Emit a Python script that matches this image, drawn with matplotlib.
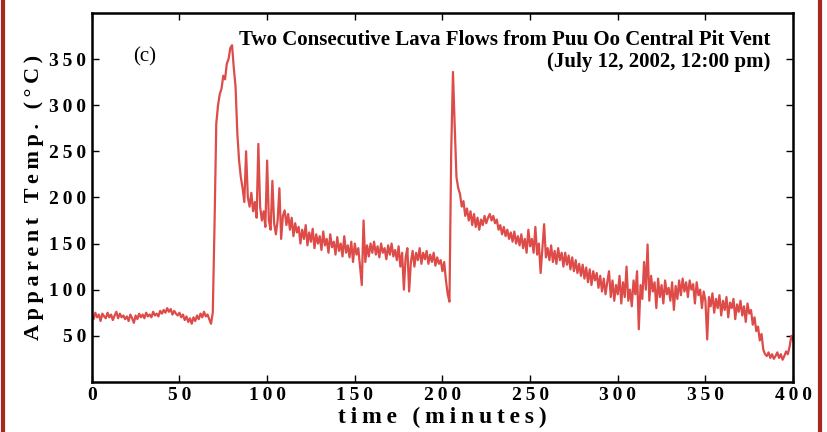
import numpy as np
import matplotlib.pyplot as plt
from matplotlib.lines import Line2D

# temperatura aparente, una muestra por minuto (0..400)
temp = [
    72, 68, 75, 70, 73, 66, 74, 71, 69, 75,
    70, 73, 67, 72, 76, 69, 74, 70, 72, 68,
    71, 66, 73, 69, 64, 72, 68, 74, 70, 73,
    69, 75, 71, 73, 70, 76, 72, 74, 71, 77,
    74, 78, 75, 80, 76, 79, 73, 77, 74, 72,
    75, 70, 73, 67, 71, 65, 69, 63, 70, 66,
    72, 68, 74, 70, 76, 71, 73, 68, 63, 75,
    170, 280, 300, 312, 318, 332, 328, 345, 350, 362,
    365, 340, 320, 270, 240, 222, 210, 195, 250, 200,
    190, 205, 185, 195, 178, 258, 190, 175, 185, 168,
    240, 175, 165, 218, 172, 160, 175, 210, 155, 180,
    186, 170, 182, 165, 178, 158, 172, 162, 168, 150,
    165, 155, 170, 148, 162, 152, 166, 145, 160, 150,
    158, 143, 163, 148, 155, 140, 160, 146, 152, 138,
    157, 142, 150, 136, 158, 140, 148, 135, 152, 130,
    150, 138, 145, 125, 105, 175, 130, 148, 136, 150,
    140, 152, 138, 147, 135, 150, 140, 145, 133, 148,
    138, 150, 136, 143, 132, 147, 125, 140, 100, 135,
    145, 98, 130, 142, 125, 140, 132, 145, 128, 140,
    133, 142, 128, 138, 130, 140, 126, 135, 128, 132,
    120, 130, 110, 95, 87, 250, 336, 277, 222, 210,
    204, 190, 196, 180, 188, 175, 185, 170, 182, 168,
    178, 165, 176, 170, 180, 172, 178, 182, 175, 180,
    172, 176, 165, 170, 160, 168, 158, 165, 155, 162,
    152, 163, 150, 158, 148, 160, 145, 155, 140, 165,
    147, 155, 140, 168, 138, 150, 118, 145, 171, 135,
    145, 132, 148, 130, 142, 128, 145, 132, 140, 125,
    140, 127, 137, 122, 135, 120, 132, 118, 128, 115,
    127, 112, 124, 108, 122, 105, 120, 110, 118, 102,
    115, 98, 112, 95, 108, 120, 92, 110, 88, 105,
    95, 115, 85, 108, 92, 125, 88, 100, 82, 110,
    95, 120, 57, 105, 90, 130, 100, 149, 88, 115,
    98, 108, 80, 112, 92, 105, 85, 110, 95, 102,
    88, 108, 78, 104, 90, 110, 94, 112, 98, 108,
    92, 110, 100, 106, 85, 108, 94, 100, 80, 98,
    88, 46, 92, 82, 96, 75, 90, 80, 94, 72,
    88, 78, 92, 70, 86, 80, 90, 68, 84, 76,
    88, 72, 82, 65, 85, 74, 78, 62, 70, 55,
    60, 45, 52, 35, 30, 28, 32, 26, 30, 25,
    28, 32, 26, 30, 24, 28, 33, 30, 38, 50,
    45,
]
tiempo = np.arange(len(temp))

xticks = [0, 50, 100, 150, 200, 250, 300, 350, 400]
yticks = [50, 100, 150, 200, 250, 300, 350]

titulo1 = "Two Consecutive Lava Flows from Puu Oo Central Pit Vent"
titulo2 = "(July 12, 2002, 12:00 pm)"

fuente = ['Liberation Serif', 'DejaVu Serif']


def espaciado(s):
    # separa las letras con espacio fino, como en la figura original
    return '\u2009'.join(s)


fig = plt.figure(figsize=(8.27, 4.32), dpi=100)
ax = fig.add_axes([0.111, 0.116, 0.848, 0.854])

ax.plot(tiempo, temp, color='#dd4c48', lw=1.6)

ax.set_xlim(0, 400)
ax.set_ylim(0, 400)
ax.set_xticks(xticks)
ax.set_yticks(yticks)
ax.set_xticklabels([espaciado(str(v)) for v in xticks],
                   family=fuente, fontweight='bold', fontsize=14)
ax.set_yticklabels([espaciado(str(v)) for v in yticks],
                   family=fuente, fontweight='bold', fontsize=14)
ax.tick_params(direction='in', top=True, right=True, length=5, width=1, pad=4)
for s in ax.spines.values():
    s.set_linewidth(1.8)

ax.set_xlabel(espaciado("time (minutes)"), family=fuente,
              fontweight='bold', fontsize=17, labelpad=2)
ax.set_ylabel(espaciado("Apparent Temp. (°C)"), family=fuente,
              fontweight='bold', fontsize=16, labelpad=4)

ax.text(0.967, 0.927, titulo1, transform=ax.transAxes, ha='right', va='center',
        family=fuente, fontweight='bold', fontsize=15)
ax.text(0.967, 0.867, titulo2, transform=ax.transAxes, ha='right', va='center',
        family=fuente, fontweight='bold', fontsize=15)
ax.text(0.076, 0.88, "(c)", transform=ax.transAxes, ha='center', va='center',
        family=fuente, fontsize=15)

# marco rojo del recorte original
for xb in [0.004, 0.9915]:
    fig.add_artist(Line2D([xb, xb], [0, 1], transform=fig.transFigure,
                          color='#a8281c', lw=3))

fig.savefig('out.png', dpi=100)
